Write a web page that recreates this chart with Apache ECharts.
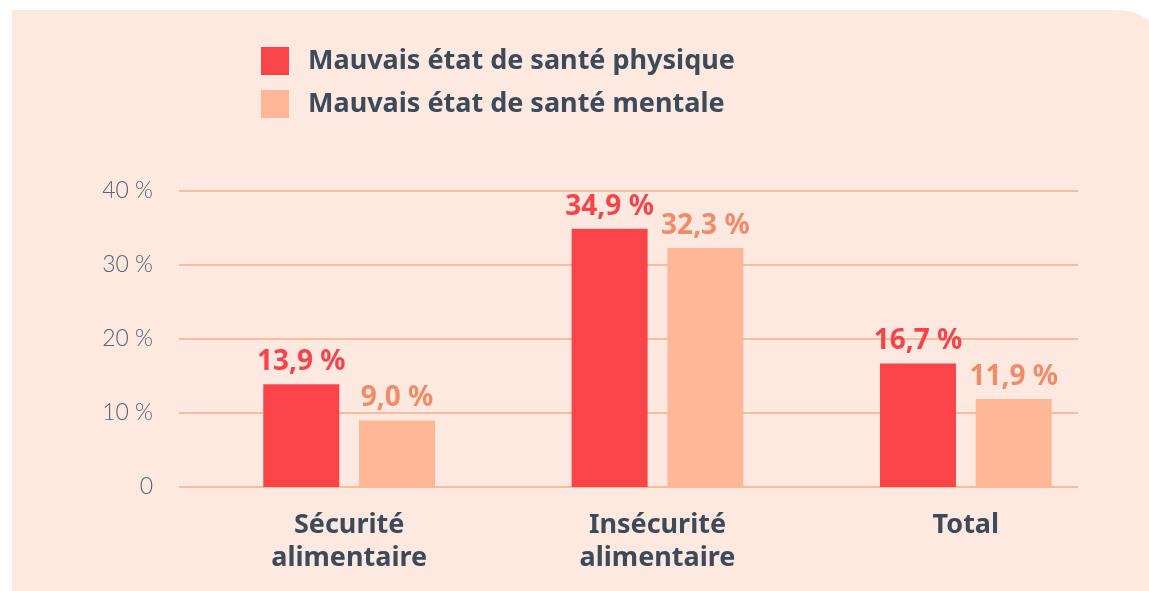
<!DOCTYPE html>
<html>
<head>
<meta charset="utf-8">
<script src="https://cdn.jsdelivr.net/npm/echarts@6/dist/echarts.min.js"></script>
<style>
  html, body { margin: 0; padding: 0; background: #ffffff; }
  #main { width: 1149px; height: 591px; }
</style>
</head>
<body>
<div id="main"></div>
<script>
// données
var categories = ['Sécurité\nalimentaire', 'Insécurité\nalimentaire', 'Total'];
var physique = [13.9, 34.9, 16.7];
var mentale = [9.0, 32.3, 11.9];
var seriesNames = ['Mauvais état de santé physique', 'Mauvais état de santé mentale'];
var yTicks = [0, 10, 20, 30, 40];

var chart = echarts.init(document.getElementById('main'));

function fmtPct(v) {
  return v.toFixed(1).replace('.', ',') + ' %';
}

var boldFont = '"Noto Sans", sans-serif';

var option = {
  animation: false,
  textStyle: { fontFamily: boldFont },
  graphic: [{
    type: 'rect',
    z: -10,
    shape: { x: 12, y: 10, width: 1160, height: 600, r: [0, 55, 0, 0] },
    style: { fill: '#fde9df' }
  }],
  legend: {
    orient: 'vertical',
    left: 256,
    top: 42,
    itemWidth: 28,
    itemHeight: 28,
    itemGap: 15,
    icon: 'rect',
    textStyle: { fontSize: 27, fontWeight: 'bold', color: '#3d4a5a', padding: [0, 0, 0, 14], fontFamily: boldFont, lineHeight: 28 },
    data: seriesNames
  },
  grid: [
    // grille pour les lignes horizontales
    { left: 179, right: 71, top: 191, bottom: 104 },
    // grille pour les barres
    { left: 195, right: 29, top: 191, bottom: 104 }
  ],
  xAxis: [
    { type: 'category', gridIndex: 0, data: categories, show: false },
    {
      type: 'category', gridIndex: 1, data: categories,
      axisLine: { show: false },
      axisTick: { show: false },
      axisLabel: {
        margin: 22, fontSize: 27, fontWeight: 'bold', color: '#3d4a5a', lineHeight: 33,
        fontFamily: boldFont
      }
    }
  ],
  yAxis: [
    {
      type: 'value', gridIndex: 0, min: 0, max: 40, interval: 10,
      axisLine: { show: false },
      axisTick: { show: false },
      splitLine: { lineStyle: { color: '#fdbb9c', width: 2 } },
      axisLabel: {
        margin: 26, fontSize: 23, fontWeight: 300, color: '#5a6270',
        fontFamily: 'Lato, sans-serif',
        formatter: function (v) { return v === 0 ? '0' : v + ' %'; }
      }
    },
    {
      type: 'value', gridIndex: 1, min: 0, max: 40, interval: 10,
      show: false
    }
  ],
  series: [
    {
      name: seriesNames[0], type: 'bar', xAxisIndex: 1, yAxisIndex: 1,
      data: physique, barWidth: 76, barGap: '26%',
      itemStyle: { color: '#fa444a' },
      label: {
        show: true, position: 'top', distance: 8,
        fontSize: 28, fontWeight: 'bold', color: '#fa444a', fontFamily: boldFont,
        formatter: function (p) { return fmtPct(p.value); }
      }
    },
    {
      name: seriesNames[1], type: 'bar', xAxisIndex: 1, yAxisIndex: 1,
      data: mentale, barWidth: 76,
      itemStyle: { color: '#feb897' },
      label: {
        show: true, position: 'top', distance: 8,
        fontSize: 28, fontWeight: 'bold', color: '#f28b68', fontFamily: boldFont,
        formatter: function (p) { return fmtPct(p.value); }
      }
    }
  ]
};

chart.setOption(option);
window.onresize = function () { chart.resize(); };
</script>
</body>
</html>
